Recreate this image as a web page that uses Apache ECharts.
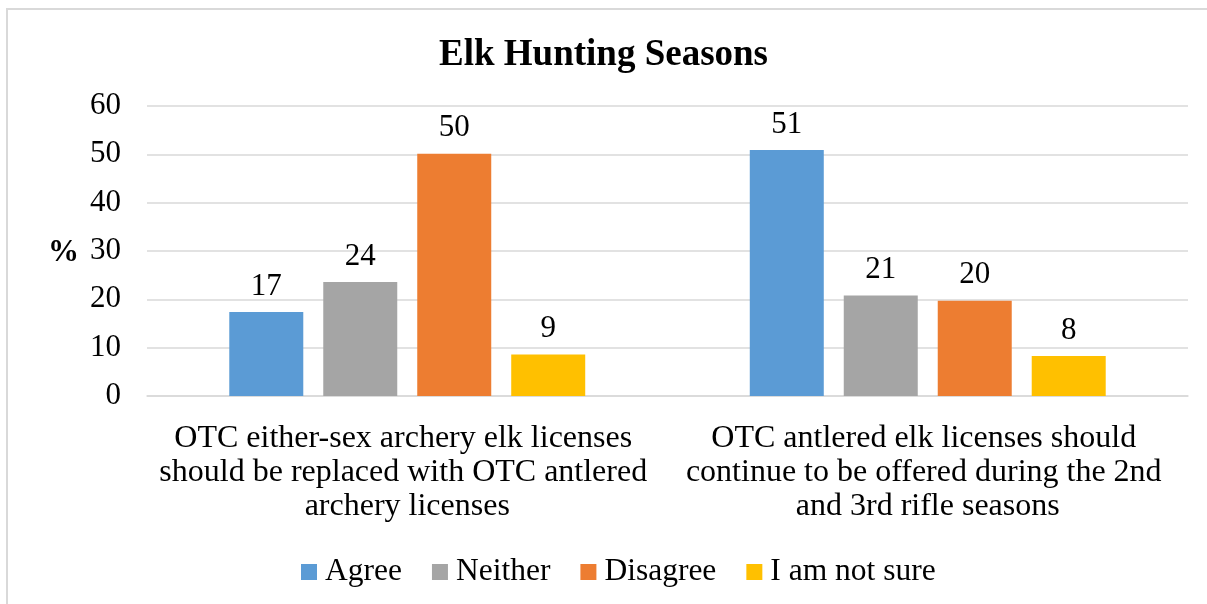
<!DOCTYPE html>
<html>
<head>
<meta charset="utf-8">
<script src="https://cdn.jsdelivr.net/npm/echarts@6/dist/echarts.min.js"></script>
<style>
  html, body { margin: 0; padding: 0; background: #fff; overflow: hidden; }
  #frame { position: absolute; left: 6px; top: 8px; width: 1260px; height: 640px; border-left: 2px solid #d9d9d9; border-top: 2px solid #d9d9d9; box-sizing: border-box; }
  #chart { position: absolute; left: 0; top: 0; width: 1207px; height: 604px; }
</style>
</head>
<body>
<div id="frame"></div>
<div id="chart"></div>
<script>
const title = 'Elk Hunting Seasons';
const categories = [
  'OTC either-sex archery elk licenses should be replaced with OTC antlered archery licenses',
  'OTC antlered elk licenses should continue to be offered during the 2nd and 3rd rifle seasons'
];
const seriesNames = ['Agree', 'Neither', 'Disagree', 'I am not sure'];
const agree = [17.4, 50.9];
const neither = [23.6, 20.8];
const disagree = [50.1, 19.7];
const notSure = [8.6, 8.3];
const yTicks = { min: 0, max: 60, interval: 10 };
const colors = ['#5B9BD5', '#A5A5A5', '#ED7D31', '#FFC000'];

const FONT = "'Liberation Serif', 'Times New Roman', serif";
const seriesData = [agree, neither, disagree, notSure];

const chart = echarts.init(document.getElementById('chart'), null, { renderer: 'canvas' });
chart.setOption({
  animation: false,
  backgroundColor: 'transparent',
  title: {
    text: title,
    left: 'center',
    top: 32,
    textStyle: { fontFamily: FONT, fontSize: 37, fontWeight: 'bold', color: '#000' }
  },
  legend: {
    data: seriesNames,
    left: 296,
    top: 551,
    itemWidth: 16,
    itemHeight: 16,
    itemGap: 30,
    icon: 'rect',
    textStyle: { fontFamily: FONT, fontSize: 31.5, color: '#000', padding: [0, 0, 0, 3] }
  },
  grid: { left: 147, right: 19, top: 106, bottom: 208, containLabel: false },
  xAxis: {
    type: 'category',
    data: categories,
    axisLine: { lineStyle: { color: '#d9d9d9', width: 1.5 } },
    axisTick: { show: false },
    axisLabel: {
      interval: 0,
      margin: 26,
      fontFamily: FONT,
      fontSize: 32,
      color: '#000',
      lineHeight: 34,
      width: 500,
      overflow: 'break'
    }
  },
  yAxis: {
    type: 'value',
    min: yTicks.min,
    max: yTicks.max,
    interval: yTicks.interval,
    axisLine: { show: false },
    axisTick: { show: false },
    splitLine: { lineStyle: { color: '#d9d9d9', width: 1.5 } },
    axisLabel: { margin: 26, fontFamily: FONT, fontSize: 31, color: '#000' }
  },
  graphic: [{
    type: 'text',
    left: 48,
    top: 237,
    style: { text: '%', font: "bold 31px 'Liberation Serif', 'Times New Roman', serif", fill: '#000' }
  }],
  series: seriesNames.map((name, i) => ({
    name,
    type: 'bar',
    data: seriesData[i],
    barWidth: 74,
    barGap: '27%',
    itemStyle: { color: colors[i] },
    label: {
      show: true,
      position: 'top',
      distance: 10,
      fontFamily: FONT,
      fontSize: 31,
      color: '#000',
      formatter: p => Math.round(p.value)
    }
  }))
});
</script>
</body>
</html>
